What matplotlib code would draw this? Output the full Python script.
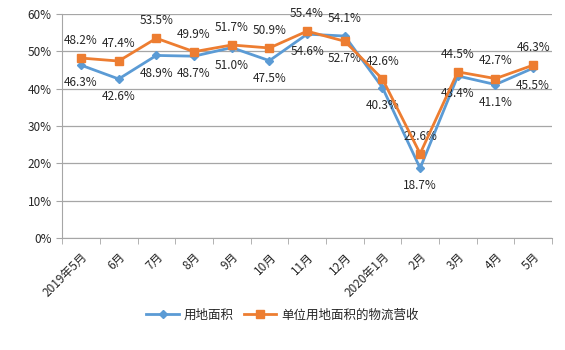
import numpy as np
import matplotlib
matplotlib.use("Agg")
import matplotlib.pyplot as plt
from matplotlib.ticker import PercentFormatter

plt.rcParams['font.family'] = ['Noto Sans CJK SC', 'DejaVu Sans']

months = ["2019年5月", "6月", "7月", "8月", "9月", "10月", "11月", "12月",
          "2020年1月", "2月", "3月", "4月", "5月"]
land_area = [46.3, 42.6, 48.9, 48.7, 51.0, 47.5, 54.6, 54.1, 40.3, 18.7, 43.4, 41.1, 45.5]
revenue_per_area = [48.2, 47.4, 53.5, 49.9, 51.7, 50.9, 55.4, 52.7, 42.6, 22.6, 44.5, 42.7, 46.3]

blue = "#5B9BD5"
orange = "#ED7D31"
grid_color = "#A6A6A6"
text_color = "#262626"

fig = plt.figure(figsize=(5.65, 3.5), dpi=100)
ax = fig.add_axes([0.110, 0.32, 0.867, 0.64])

x = np.arange(len(months))
ax.plot(x, land_area, color=blue, marker="D", markersize=4.5, linewidth=2, label="用地面积", zorder=3)
ax.plot(x, revenue_per_area, color=orange, marker="s", markersize=5.5, linewidth=2,
        label="单位用地面积的物流营收", zorder=4)

# data labels: orange above, blue below (swapped where blue is higher)
for i in x:
    b, o = land_area[i], revenue_per_area[i]
    blue_above = b > o
    ax.annotate(f"{b:.1f}%", (i, b), xytext=(0, 8 if blue_above else -8), textcoords="offset points",
                ha="center", va="bottom" if blue_above else "top", fontsize=8.5, color=text_color)
    ax.annotate(f"{o:.1f}%", (i, o), xytext=(0, -8 if blue_above else 8), textcoords="offset points",
                ha="center", va="top" if blue_above else "bottom", fontsize=8.5, color=text_color)

ax.set_xlim(-0.5, len(months) - 0.5)
ax.set_ylim(0, 60)
ax.set_yticks(range(0, 61, 10))
ax.yaxis.set_major_formatter(PercentFormatter(decimals=0))
ax.grid(axis="y", color=grid_color, linewidth=0.9)
ax.set_axisbelow(True)

ax.set_xticks(x)
ax.set_xticklabels(months, rotation=45, ha="right", rotation_mode="anchor", fontsize=8.5, color=text_color)
ax.set_xticks(np.arange(-0.5, len(months)), minor=True)
ax.tick_params(axis="x", which="major", length=0, pad=9)
ax.tick_params(axis="x", which="minor", length=4, color=grid_color)
ax.tick_params(axis="y", length=4, color=grid_color, labelsize=8.5, labelcolor=text_color)

for side in ["top", "right"]:
    ax.spines[side].set_visible(False)
for side in ["left", "bottom"]:
    ax.spines[side].set_color(grid_color)

fig.legend(loc="center", bbox_to_anchor=(0.50, 0.10), ncol=2, frameon=False, fontsize=9,
           handlelength=2.6, columnspacing=0.8, handletextpad=0.4, labelcolor=text_color)

fig.savefig("out.png", dpi=100)
